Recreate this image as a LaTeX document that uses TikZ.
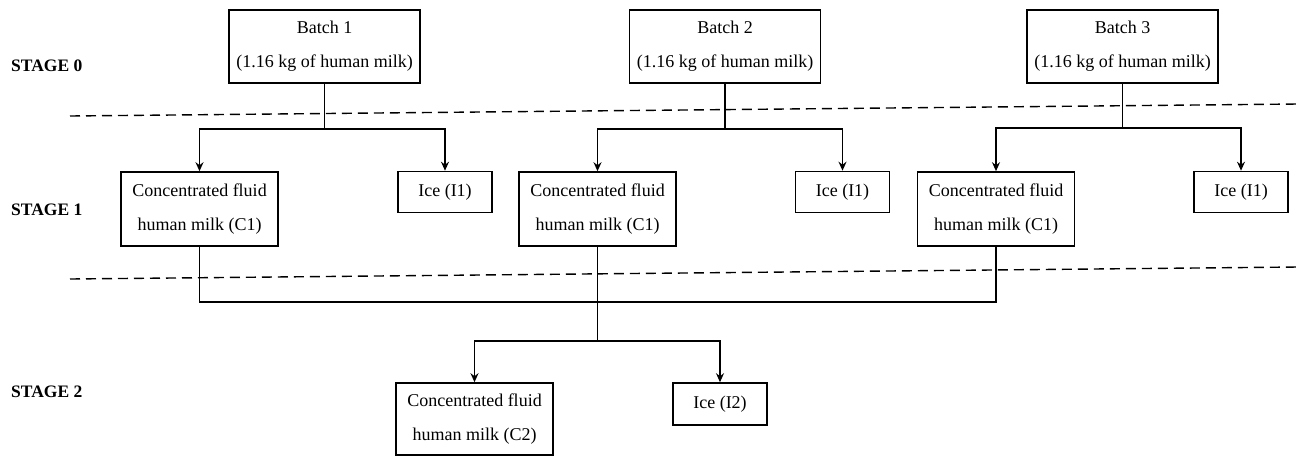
\documentclass[tikz,border=0pt]{standalone}
\usepackage{fontspec}
\setmainfont{Liberation Serif}
\usetikzlibrary{arrows.meta}
\tikzset{
  box/.style={draw, line width=1.6pt, inner sep=0pt, align=center,
    font=\fontsize{18}{34}\selectfont},
  bigbox/.style={box, minimum width=191pt, minimum height=73pt},
  cbox/.style={box, minimum width=157pt, minimum height=74pt},
  ibox/.style={box, minimum width=94pt, minimum height=41pt},
  stagelbl/.style={anchor=west, inner sep=0pt, font=\fontsize{17.5}{20}\selectfont\bfseries},
  conn/.style={line width=1.4pt},
  arr/.style={conn, -{Stealth[length=9pt,width=8pt,inset=3pt]}},
  sep/.style={line width=1.4pt, dash pattern=on 10pt off 6pt}
}
\begin{document}
\begin{tikzpicture}[x=1pt, y=-1pt]
\useasboundingbox (0,0) rectangle (1298,456);
\fill[white] (0,0) rectangle (1298,456);

% stage labels
\node[stagelbl] (s0) at (11,66) {STAGE 0};
\node[stagelbl] (s1) at (11,210) {STAGE 1};
\node[stagelbl] (s2) at (11,392) {STAGE 2};

% separators
\coordinate (d1a) at (70,116);
\coordinate (d1b) at (1298,104);
\coordinate (d2a) at (70,279);
\coordinate (d2b) at (1298,267);
\draw[sep] (d1a) -- (d1b);
\draw[sep] (d2a) -- (d2b);

% stage 0
\node[bigbox] (b1) at (324.5,46.5) {Batch 1\\(1.16 kg of human milk)};
\node[bigbox] (b2) at (725,46.5) {Batch 2\\(1.16 kg of human milk)};
\node[bigbox] (b3) at (1122.5,46.5) {Batch 3\\(1.16 kg of human milk)};

% stage 1
\node[cbox] (c1a) at (199.5,209) {Concentrated fluid\\human milk (C1)};
\node[ibox] (i1a) at (445,192) {Ice (I1)};
\node[cbox] (c1b) at (597.5,209) {Concentrated fluid\\human milk (C1)};
\node[ibox] (i1b) at (842.5,192) {Ice (I1)};
\node[cbox] (c1c) at (996,209) {Concentrated fluid\\human milk (C1)};
\node[ibox] (i1c) at (1241,192) {Ice (I1)};

% stage 2
\node[cbox, minimum height=72pt] (c2) at (474.5,419) {Concentrated fluid\\human milk (C2)};
\node[ibox, minimum height=42pt] (i2) at (720,404) {Ice (I2)};

% stage 0 -> 1
\draw[conn] (b1.south) -- ++(0,45) coordinate (j1);
\draw[arr] (j1) -| (c1a.north);
\draw[arr] (j1) -| (i1a.north);
\draw[conn] (b2.south) -- ++(0,45) coordinate (j2);
\draw[arr] (j2) -| (c1b.north);
\draw[arr] (j2) -| (i1b.north);
\draw[conn] (b3.south) -- ++(0,44) coordinate (j3);
\draw[arr] (j3) -| (c1c.north);
\draw[arr] (j3) -| (i1c.north);

% stage 1 -> 2
\draw[conn] (c1a.south) -- ++(0,55) -| (c1c.south);
\draw[conn] (c1b.south) -- ++(0,94) coordinate (j4);
\draw[arr] (j4) -| (c2.north);
\draw[arr] (j4) -| (i2.north);
\end{tikzpicture}
\end{document}
